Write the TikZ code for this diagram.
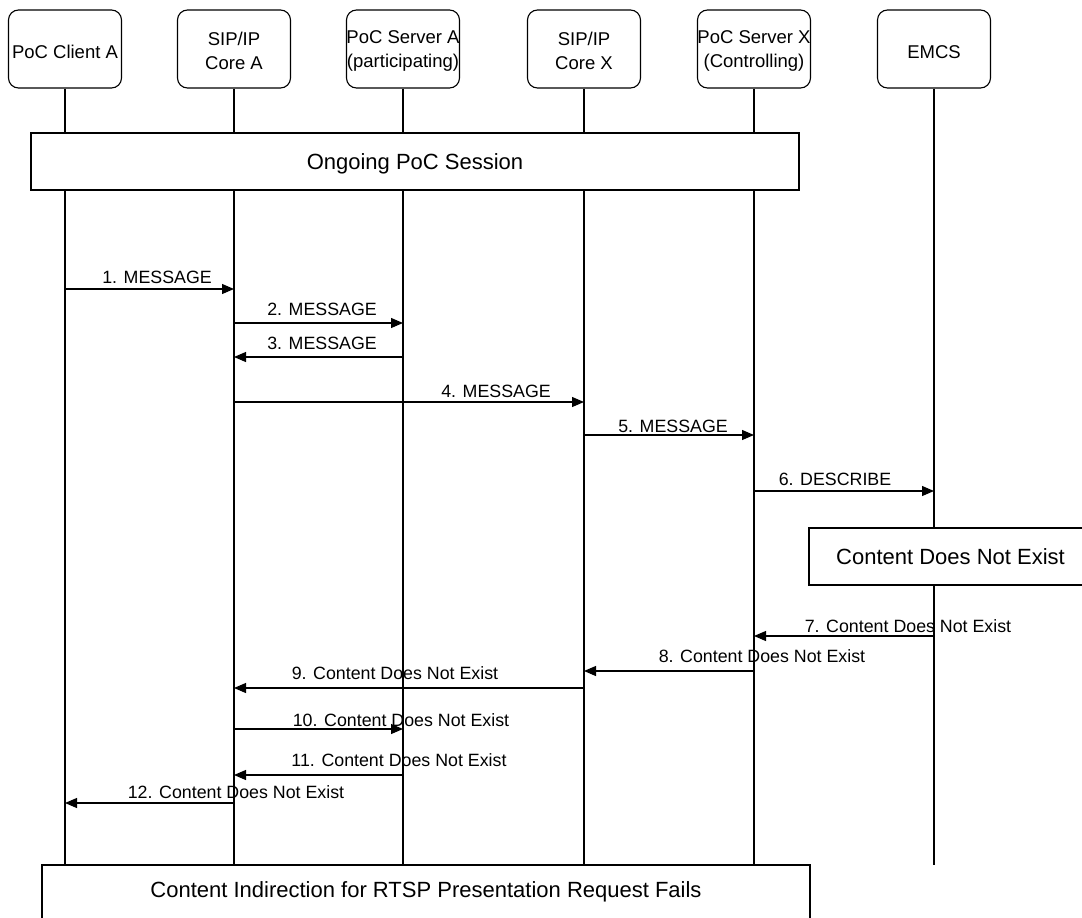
\documentclass[tikz,border=0pt]{standalone}
\usepackage{fontspec}
\setmainfont{Liberation Sans}
\usetikzlibrary{arrows.meta}
\tikzset{
  hdr/.style={draw, line width=1.1pt, rounded corners=10pt, fill=white, minimum width=113pt, minimum height=78pt, inner sep=0pt},
  htxt/.style={inner sep=0pt, align=center, font=\fontsize{18.5}{24.5}\selectfont},
  bar/.style={draw, line width=1.1pt, fill=white, inner sep=0pt},
  btxt/.style={inner sep=0pt, font=\fontsize{22}{26}\selectfont},
  life/.style={line width=1.1pt},
  msg/.style={line width=1.1pt, -{Triangle[length=12pt,width=10pt]}},
  lbl/.style={anchor=base, inner sep=0pt, font=\fontsize{17.8}{21}\selectfont}
}
\begin{document}
\begin{tikzpicture}[x=1pt,y=-1pt]
\useasboundingbox (0,0) rectangle (1082,918);
% headers
\node[hdr] (cA) at (65,49) {};
\node[hdr] (sA) at (234,49) {};
\node[hdr] (pA) at (403,49) {};
\node[hdr] (sX) at (584,49) {};
\node[hdr] (pX) at (754,49) {};
\node[hdr] (em) at (934,49) {};
\node[htxt] (cAt) at (65,52) {PoC Client A};
\node[htxt] (sAt) at (234,51) {SIP/IP\\Core A};
\node[htxt] (pAt) at (403,51) {PoC Server A\\(participating)};
\node[htxt] (sXt) at (584,51) {SIP/IP\\Core X};
\node[htxt] (pXt) at (754,51) {PoC Server X\\(Controlling)};
\node[htxt] (emt) at (934,52) {EMCS};
\coordinate (bot) at (0,865);
% lifelines
\foreach \n in {cA,sA,pA,sX,pX,em}{
  \draw[life] (\n.south) -- (\n.south |- bot);
}
% boxes
\node[bar, minimum width=768pt, minimum height=57pt] (ongoing) at (415,161.5) {};
\node[btxt] (ongoingt) at (415,164) {Ongoing PoC Session};
\node[bar, minimum width=300pt, minimum height=57pt] (cdne) at (959,556.5) {};
\node[btxt] (cdnet) at (950.5,556.5) {Content Does Not Exist};
\node[bar, minimum width=768pt, minimum height=70pt] (fail) at (426,900) {};
\node[btxt] (failt) at (426,891.5) {Content Indirection for RTSP Presentation Request Fails};
% messages
\draw[msg] (cA |- 0,289) -- (sA |- 0,289);
\node[lbl] (l1) at (157,283.4) {1. MESSAGE};
\draw[msg] (sA |- 0,323) -- (pA |- 0,323);
\node[lbl] (l2) at (322,315.4) {2. MESSAGE};
\draw[msg] (pA |- 0,357) -- (sA |- 0,357);
\node[lbl] (l3) at (322,349.4) {3. MESSAGE};
\draw[msg] (sA |- 0,402) -- (sX |- 0,402);
\node[lbl] (l4) at (496,397.4) {4. MESSAGE};
\draw[msg] (sX |- 0,435) -- (pX |- 0,435);
\node[lbl] (l5) at (673,432.4) {5. MESSAGE};
\draw[msg] (pX |- 0,491) -- (em |- 0,491);
\node[lbl] (l6) at (835,485.4) {6. DESCRIBE};
\draw[msg] (em |- 0,636) -- (pX |- 0,636);
\node[lbl] (l7) at (908,632.4) {7. Content Does Not Exist};
\draw[msg] (pX |- 0,671) -- (sX |- 0,671);
\node[lbl] (l8) at (762,662.4) {8. Content Does Not Exist};
\draw[msg] (sX |- 0,688) -- (sA |- 0,688);
\node[lbl] (l9) at (395,679.4) {9. Content Does Not Exist};
\draw[msg] (sA |- 0,729) -- (pA |- 0,729);
\node[lbl] (l10) at (401,726.4) {10. Content Does Not Exist};
\draw[msg] (pA |- 0,775) -- (sA |- 0,775);
\node[lbl] (l11) at (399,766.4) {11. Content Does Not Exist};
\draw[msg] (sA |- 0,803) -- (cA |- 0,803);
\node[lbl] (l12) at (236,798.4) {12. Content Does Not Exist};
\end{tikzpicture}
\end{document}
